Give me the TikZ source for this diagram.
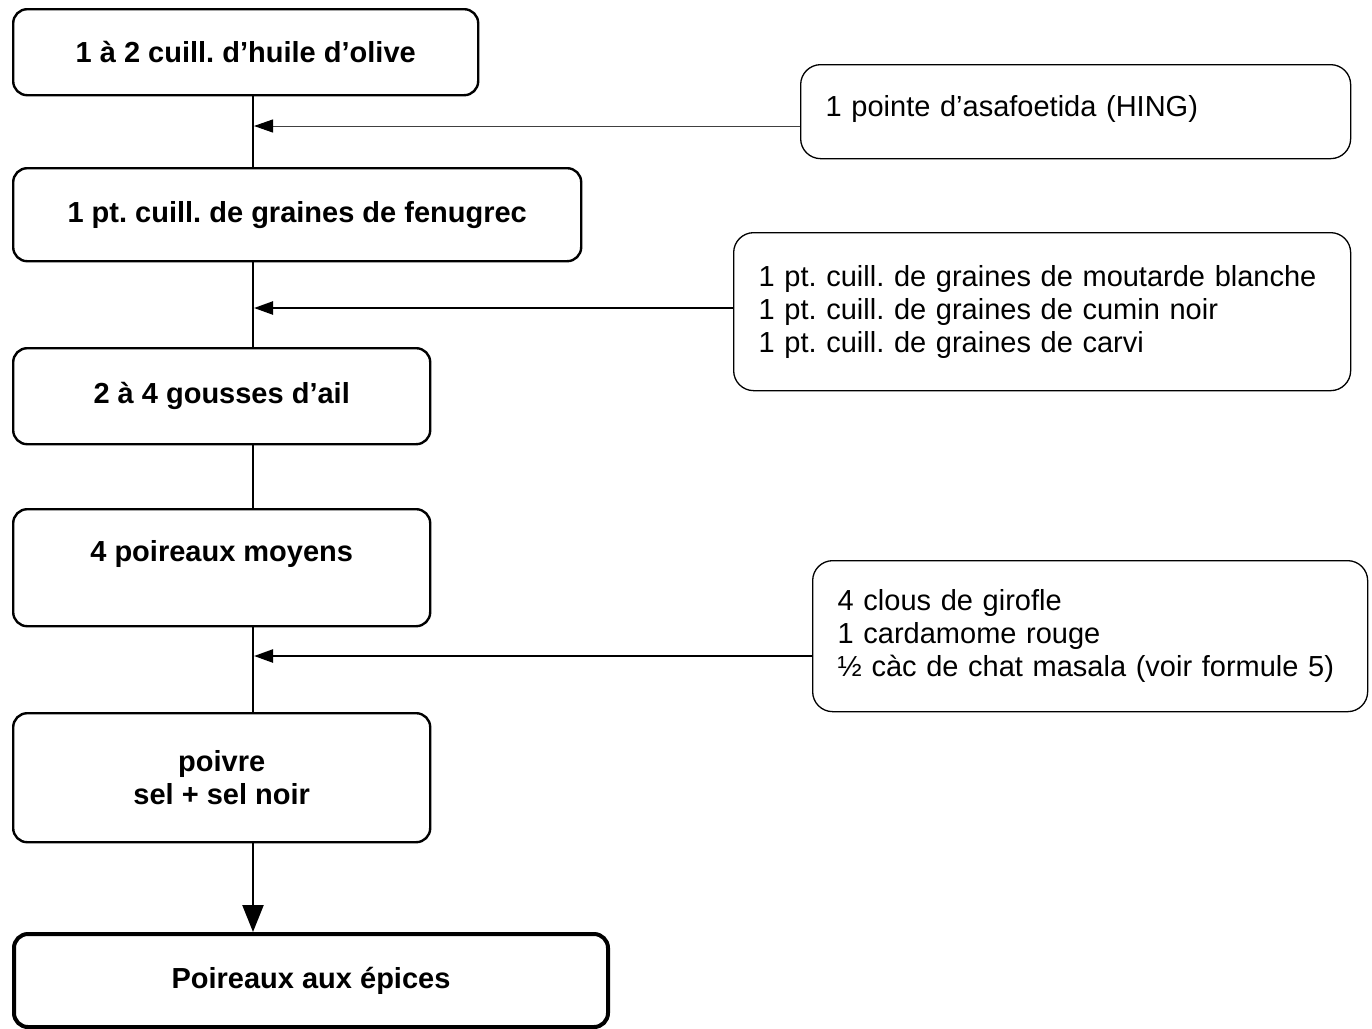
\documentclass[tikz,border=0pt]{standalone}
\usepackage{fontspec}
\setmainfont{Liberation Sans}
\usetikzlibrary{arrows.meta}
\frenchspacing
\begin{document}
\begin{tikzpicture}[x=1pt,y=-1pt,
  mainbox/.style={draw, line width=2.4pt, rounded corners=14pt, anchor=north west,
    inner sep=0pt, font=\fontsize{29}{33}\selectfont\bfseries\frenchspacing, align=center},
  sidebox/.style={draw, line width=1.3pt, rounded corners=20pt, anchor=north west,
    inner xsep=25pt, inner ysep=0pt, font=\fontsize{29}{33}\selectfont\frenchspacing, align=left},
  flow/.style={line width=2.4pt},
  feed/.style={line width=2.4pt, -{Triangle[length=19pt,width=13pt]}},
  thinfeed/.style={line width=1pt, draw=black!75, -{Triangle[length=19pt,width=13pt,fill=black,color=black]}},
  endfeed/.style={line width=2.4pt, -{Triangle[length=27pt,width=21pt]}}]
\useasboundingbox (0,0) rectangle (1372,1028);

\node[mainbox, minimum width=465pt, minimum height=86pt] (b1) at (12,8) {1 à 2 cuill. d’huile d’olive};
\node[mainbox, minimum width=568pt, minimum height=93pt] (b2) at (12,167) {1 pt. cuill. de graines de fenugrec};
\node[mainbox, minimum width=417pt, minimum height=96pt] (b3) at (12,347) {2 à 4 gousses d’ail};
\node[mainbox, minimum width=417pt, minimum height=117pt, text height=52pt, text depth=65pt] (b4) at (12,508) {4 poireaux moyens};
\node[mainbox, minimum width=417pt, minimum height=129pt] (b5) at (12,712) {poivre\\sel + sel noir};
\node[mainbox, line width=4pt, minimum width=594pt, minimum height=93pt] (b6) at (12,932) {Poireaux aux épices};

\node[sidebox, text width=500pt, minimum height=94pt, text height=51.5pt, text depth=42.5pt] (sa) at (800,64) {1 pointe d’asafoetida (HING)};
\node[sidebox, text width=567pt, minimum height=158pt] (sb) at (733,232) {1 pt. cuill. de graines de moutarde blanche\\1 pt. cuill. de graines de cumin noir\\1 pt. cuill. de graines de carvi};
\node[sidebox, text width=505pt, minimum height=151pt] (sc) at (812,560) {4 clous de girofle\\1 cardamome rouge\\½ càc de chat masala (voir formule 5)};

\coordinate (ax) at (253,0);
\coordinate (j1) at (254,126);
\coordinate (j2) at (254,308);
\coordinate (j3) at (254,656);

\draw[flow] (b1.south -| ax) -- (b2.north -| ax);
\draw[thinfeed] (sa.west |- j1) -- (j1);
\draw[flow] (b2.south -| ax) -- (b3.north -| ax);
\draw[feed] (sb.west |- j2) -- (j2);
\draw[flow] (b3.south -| ax) -- (b4.north -| ax);
\draw[flow] (b4.south -| ax) -- (b5.north -| ax);
\draw[feed] (sc.west |- j3) -- (j3);
\draw[endfeed] (b5.south -| ax) -- (b6.north -| ax);
\end{tikzpicture}
\end{document}
